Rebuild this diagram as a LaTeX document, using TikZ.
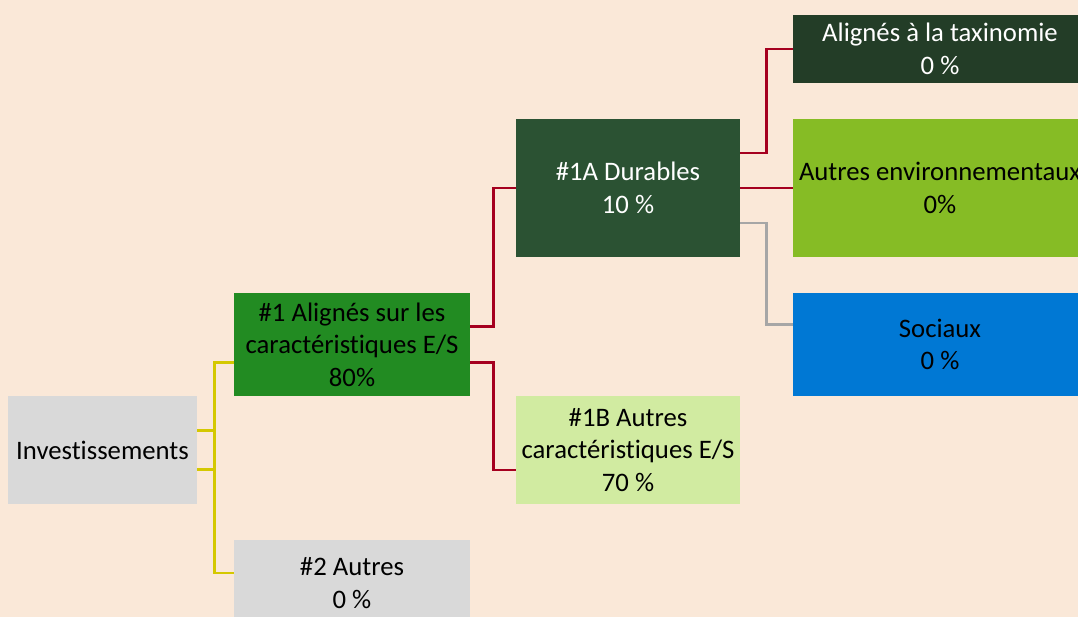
\documentclass[tikz,border=0pt]{standalone}
\usepackage{fontspec}
\setmainfont[Ligatures=NoCommon]{Carlito}
\usepackage{tikz}

\definecolor{bgpeach}{HTML}{FAE8D8}
\definecolor{boxgrey}{HTML}{D9D9D9}
\definecolor{grnmain}{HTML}{228B22}
\definecolor{grndark}{HTML}{2B5233}
\definecolor{grndeep}{HTML}{233D27}
\definecolor{grnlight}{HTML}{D1EBA1}
\definecolor{grnlime}{HTML}{86BC25}
\definecolor{socblue}{HTML}{0078D4}
\definecolor{linkyellow}{HTML}{D4C800}
\definecolor{linkred}{HTML}{A5001F}
\definecolor{linkgrey}{HTML}{A6A6A6}

\begin{document}
\begin{tikzpicture}[font=\fontsize{19}{23.2}\selectfont]
	\tikzstyle{box} = [rectangle, inner sep=0pt, align=center, text centered]
	\tikzstyle{level0} = [box, minimum width=4.725cm, minimum height=2.7cm, fill=boxgrey]
	\tikzstyle{level1} = [box, minimum width=5.9cm]
	\tikzstyle{level2} = [box, minimum width=5.6cm]
	\tikzstyle{level3} = [box, minimum width=7.35cm]
	
	\tikzstyle{link} = [line width=2pt]
	
	% Page and background
	\useasboundingbox (0,0) rectangle (26.95,-15.425);
	\clip (0,0) rectangle (26.95,-15.425);
	\fill [bgpeach] (0,0) rectangle (26.95,-15.425);
	
	% Root node
	\node (inv) [level0] at (2.5625,-11.25) {Investissements};
	
	% Level 1 nodes
	\node (e1) [level1, minimum height=2.575cm, fill=grnmain] at (8.8,-8.6125) {\#1 Alignés sur les\\caractéristiques E/S\\80\%};
	\node (e2) [level1, minimum height=2.15cm, fill=boxgrey] at (8.8,-14.575) {\#2 Autres\\0 \%};
	
	% Level 2 nodes
	\node (e1a) [level2, minimum height=3.45cm, fill=grndark, text=white] at (15.7,-4.7) {\#1A Durables\\10 \%};
	\node (e1b) [level2, minimum height=2.7cm, fill=grnlight] at (15.7,-11.25) {\#1B Autres\\caractéristiques E/S\\70 \%};
	
	% Level 3 nodes
	\node (tax) [level3, minimum height=1.7cm, fill=grndeep, text=white] at (23.5,-1.225) {Alignés à la taxinomie\\0 \%};
	\node (env) [level3, minimum height=3.45cm, fill=grnlime] at (23.5,-4.7) {Autres environnementaux\\0\%};
	\node (soc) [level3, minimum height=2.575cm, fill=socblue] at (23.5,-8.6125) {Sociaux\\0 \%};
	
	% Links
	\draw [link, linkyellow] ([yshift=0.49cm]inv.east) -- ++(0.45,0);
	\draw [link, linkyellow] ([yshift=-0.49cm]inv.east) -- ++(0.45,0);
	\draw [link, linkyellow] ([yshift=-0.44cm]e1.west) -- ++(-0.475,0) |- ([yshift=0.25cm]e2.west);
	
	\draw [link, linkred] ([yshift=0.46cm]e1.east) -- ++(0.575,0) |- (e1a.west);
	\draw [link, linkred] ([yshift=-0.44cm]e1.east) -- ++(0.575,0) |- ([yshift=-0.5cm]e1b.west);
	
	\draw [link, linkred] ([yshift=0.875cm]e1a.east) -- ++(0.65,0) |- (tax.west);
	\draw [link, linkred] (e1a.east) -- (env.west);
	\draw [link, linkgrey] ([yshift=-0.875cm]e1a.east) -- ++(0.65,0) |- ([yshift=0.49cm]soc.west);
\end{tikzpicture}
\end{document}
